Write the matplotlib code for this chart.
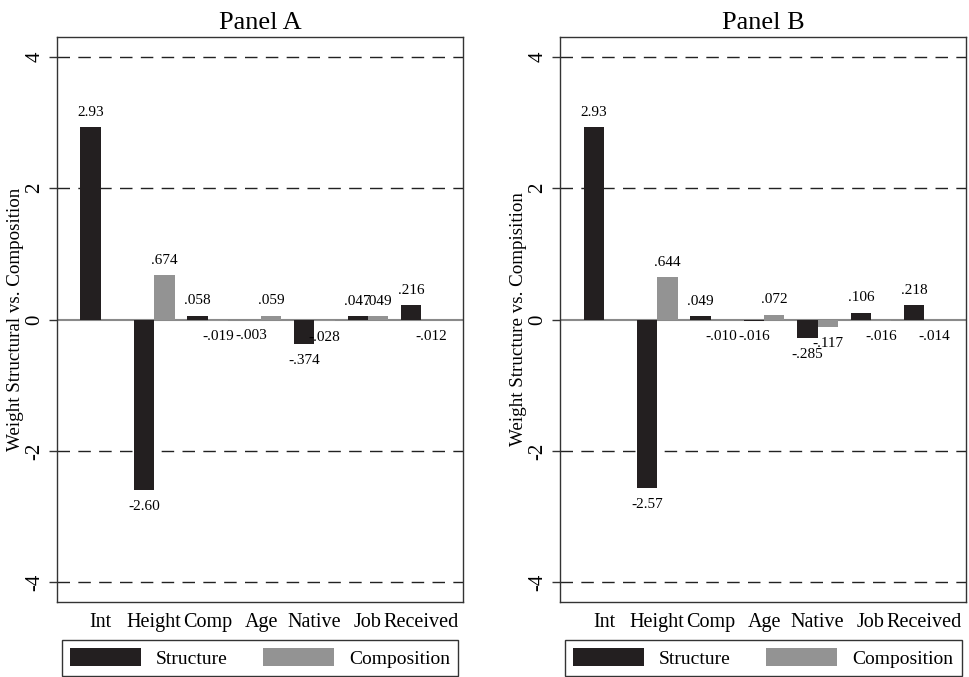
import numpy as np
import matplotlib
matplotlib.use('Agg')
import matplotlib.pyplot as plt

plt.rcParams['font.family'] = ['Liberation Serif', 'DejaVu Serif']

# Dados
categorias = ['Int', 'Height', 'Comp', 'Age', 'Native', 'Job', 'Received']

estrutura_a = [2.93, -2.60, 0.058, -0.003, -0.374, 0.047, 0.216]
composicao_a = [np.nan, 0.674, -0.019, 0.059, -0.028, 0.049, -0.012]
rotulos_est_a = ['2.93', '-2.60', '.058', '-.003', '-.374', '.047', '.216']
rotulos_comp_a = ['', '.674', '-.019', '.059', '-.028', '.049', '-.012']

estrutura_b = [2.93, -2.57, 0.049, -0.016, -0.285, 0.106, 0.218]
composicao_b = [np.nan, 0.644, -0.010, 0.072, -0.117, -0.016, -0.014]
rotulos_est_b = ['2.93', '-2.57', '.049', '-.016', '-.285', '.106', '.218']
rotulos_comp_b = ['', '.644', '-.010', '.072', '-.117', '-.016', '-.014']

cor_est = '#231f20'
cor_comp = '#939393'
largura = 0.38


def rotular(ax, xs, vals, textos):
    for x, v, t in zip(xs, vals, textos):
        if t == '' or np.isnan(v):
            continue
        if v >= 0:
            ax.annotate(t, (x, v), xytext=(0, 6), textcoords='offset points',
                        ha='center', va='bottom', fontsize=11)
        else:
            ax.annotate(t, (x, v), xytext=(0, -7), textcoords='offset points',
                        ha='center', va='top', fontsize=11)


def painel(ax, est, comp, r_est, r_comp, titulo, ylabel):
    x = np.arange(len(categorias))
    ax.bar(x - largura / 2, est, largura, color=cor_est, label='Structure', zorder=3)
    ax.bar(x + largura / 2, np.nan_to_num(comp), largura, color=cor_comp,
           label='Composition', zorder=3)
    rotular(ax, x - largura / 2, est, r_est)
    rotular(ax, x + largura / 2, comp, r_comp)

    for yv in [-4, -2, 2, 4]:
        ax.axhline(yv, color='#222222', lw=1, ls=(0, (9, 6)), zorder=1)
    ax.axhline(0, color='#8a8a8a', lw=1.5, zorder=2)

    ax.set_xlim(-0.82, 6.78)
    ax.set_ylim(-4.3, 4.3)
    ax.set_yticks([-4, -2, 0, 2, 4])
    ax.set_yticklabels(['-4', '-2', '0', '2', '4'], rotation=90, va='center',
                       fontsize=15)
    ax.tick_params(axis='y', length=6, width=1, color='#333333', pad=3)
    ax.set_xticks(x)
    ax.set_xticklabels(categorias, fontsize=14.5)
    ax.tick_params(axis='x', length=0, pad=8)
    for s in ax.spines.values():
        s.set_color('#333333')
        s.set_linewidth(1)
    ax.set_title(titulo, fontsize=19, pad=6)
    ax.set_ylabel(ylabel, fontsize=13.7, labelpad=1)

    ax.legend(loc='upper center', bbox_to_anchor=(0.5, -0.067),
              ncol=2, fancybox=False, edgecolor='#333333',
              framealpha=1, fontsize=14, handlelength=3.65, handleheight=1.03,
              borderpad=0.42, handletextpad=0.77, columnspacing=1.85,
              borderaxespad=0)


fig = plt.figure(figsize=(9.69, 6.77), dpi=100)
ax1 = fig.add_axes([0.0588, 0.1108, 0.419, 0.8345])
ax2 = fig.add_axes([0.578, 0.1108, 0.419, 0.8345])

painel(ax1, estrutura_a, composicao_a, rotulos_est_a, rotulos_comp_a,
       'Panel A', 'Weight Structural vs. Composition')
painel(ax2, estrutura_b, composicao_b, rotulos_est_b, rotulos_comp_b,
       'Panel B', 'Weight Structure vs. Compisition')

fig.savefig('out.png', dpi=100)
